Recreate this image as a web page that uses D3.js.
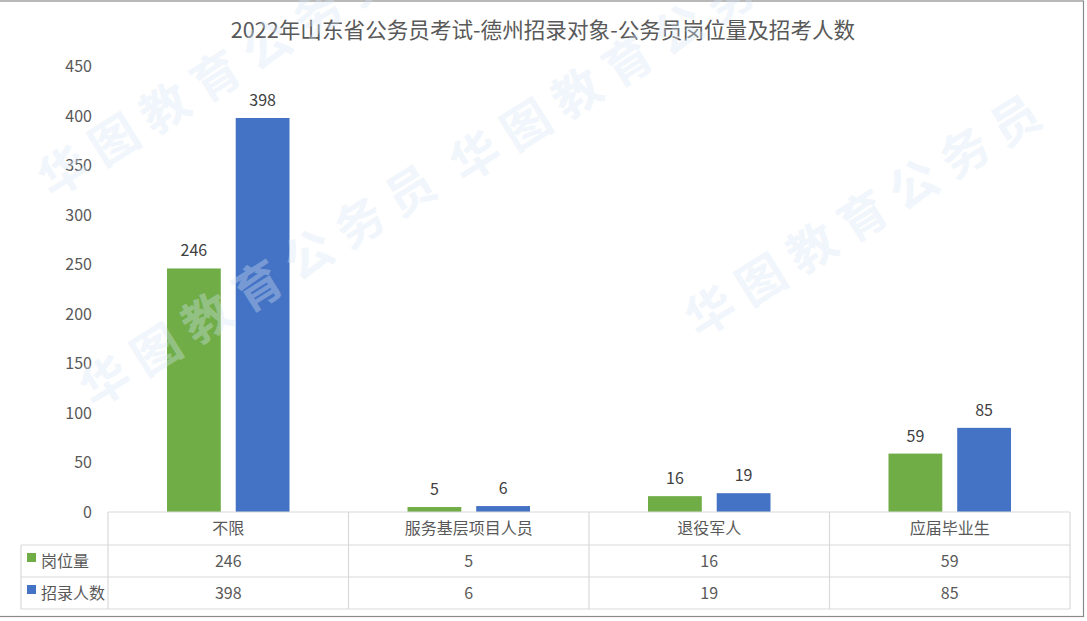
<!DOCTYPE html>
<html><head><meta charset="utf-8">
<script src="https://cdn.jsdelivr.net/npm/d3@7"></script>
<style>
html,body{margin:0;padding:0;background:#fff;}
svg{display:block;font-family:"Microsoft YaHei","Noto Sans CJK SC",sans-serif;}
</style></head>
<body>
<svg id="chart" width="1087" height="621"></svg>
<script>
const title = "2022年山东省公务员考试-德州招录对象-公务员岗位量及招考人数";
const categories = ["不限", "服务基层项目人员", "退役军人", "应届毕业生"];
const seriesNames = ["岗位量", "招录人数"];
const seriesColors = ["#70AD47", "#4472C4"];
const postCounts = [246, 5, 16, 59];
const recruitCounts = [398, 6, 19, 85];
const yTicks = [0, 50, 100, 150, 200, 250, 300, 350, 400, 450];
const watermarkText = "华图教育公务员";

const seriesValues = [postCounts, recruitCounts];
const svg = d3.select("#chart");
const textColor = "#595959";
const lineColor = "#d9d9d9";

const plot = {left: 108, right: 1070, top: 66.5, bottom: 512};
const y = d3.scaleLinear().domain([0, 450]).range([plot.bottom, plot.top]);
const x = d3.scaleBand().domain(categories).range([plot.left, plot.right]).padding(0);
const groupPad = 59;
const xs = d3.scaleBand().domain(seriesNames)
  .range([groupPad, x.bandwidth() - groupPad]).paddingInner(0.217).paddingOuter(0);

// outer border
svg.append("rect").attr("x", -2).attr("y", 1).attr("width", 1085.5).attr("height", 615.5)
  .attr("fill", "#fff").attr("stroke", "#8a8a8a").attr("stroke-width", 1.2);

// title
svg.append("text").attr("x", 543).attr("y", 38).attr("text-anchor", "middle")
  .attr("font-size", 21.6).attr("fill", textColor).text(title);

// y axis (labels only)
const yAxis = d3.axisLeft(y).tickValues(yTicks).tickSize(0).tickPadding(0);
const yg = svg.append("g").attr("transform", `translate(92,0)`).call(yAxis);
yg.select(".domain").remove();
yg.selectAll("text").attr("font-size", 16).attr("fill", textColor)
  .attr("font-family", "'Microsoft YaHei','Noto Sans CJK SC',sans-serif");

// bars
const groups = svg.append("g").selectAll("g").data(categories).join("g")
  .attr("transform", d => `translate(${x(d)},0)`);
seriesNames.forEach((s, si) => {
  groups.append("rect")
    .attr("x", xs(s)).attr("width", xs.bandwidth())
    .attr("y", (d, i) => y(seriesValues[si][i]))
    .attr("height", (d, i) => y(0) - y(seriesValues[si][i]))
    .attr("fill", seriesColors[si]);
  groups.append("text")
    .attr("x", xs(s) + xs.bandwidth() / 2)
    .attr("y", (d, i) => y(seriesValues[si][i]) - 12)
    .attr("text-anchor", "middle").attr("font-size", 16).attr("fill", "#404040")
    .text((d, i) => seriesValues[si][i]);
});

// data table
const rowY = [512, 545, 577, 609];
const tableLeft = 21;
const tg = svg.append("g").attr("stroke", lineColor).attr("stroke-width", 1.2).attr("fill", "none");
tg.append("line").attr("x1", plot.left).attr("x2", plot.right).attr("y1", rowY[0]).attr("y2", rowY[0]);
rowY.slice(1).forEach(ry => tg.append("line").attr("x1", tableLeft).attr("x2", plot.right).attr("y1", ry).attr("y2", ry));
tg.append("line").attr("x1", tableLeft).attr("x2", tableLeft).attr("y1", rowY[1]).attr("y2", rowY[3]);
categories.forEach(c => tg.append("line").attr("x1", x(c)).attr("x2", x(c)).attr("y1", rowY[0]).attr("y2", rowY[3]));
tg.append("line").attr("x1", plot.right).attr("x2", plot.right).attr("y1", rowY[0]).attr("y2", rowY[3]);

// header labels
svg.append("g").selectAll("text").data(categories).join("text")
  .attr("x", d => x(d) + x.bandwidth() / 2).attr("y", (rowY[0] + rowY[1]) / 2 + 5.5)
  .attr("text-anchor", "middle").attr("font-size", 16).attr("fill", textColor).text(d => d);

// rows
seriesNames.forEach((s, si) => {
  const cy = (rowY[si + 1] + rowY[si + 2]) / 2;
  svg.append("rect").attr("x", 27).attr("y", cy - 8).attr("width", 9).attr("height", 9)
    .attr("fill", seriesColors[si]);
  svg.append("text").attr("x", 41).attr("y", cy + 5.5).attr("font-size", 16)
    .attr("fill", textColor).text(s);
  svg.append("g").selectAll("text").data(categories).join("text")
    .attr("x", d => x(d) + x.bandwidth() / 2).attr("y", cy + 5.5)
    .attr("text-anchor", "middle").attr("font-size", 16).attr("fill", textColor)
    .text((d, i) => seriesValues[si][i]);
});

// watermarks
const wm = [[219, 70], [261, 280], [631, 55], [866, 210]];
svg.append("g").selectAll("text").data(wm).join("text")
  .attr("transform", d => `translate(${d[0]},${d[1]}) rotate(-32)`)
  .attr("text-anchor", "middle").attr("dominant-baseline", "central")
  .attr("font-size", 48).attr("letter-spacing", 12).attr("font-weight", "bold")
  .attr("fill", "#d6e6f5").attr("opacity", 0.35).text(watermarkText);
</script>
</body></html>
